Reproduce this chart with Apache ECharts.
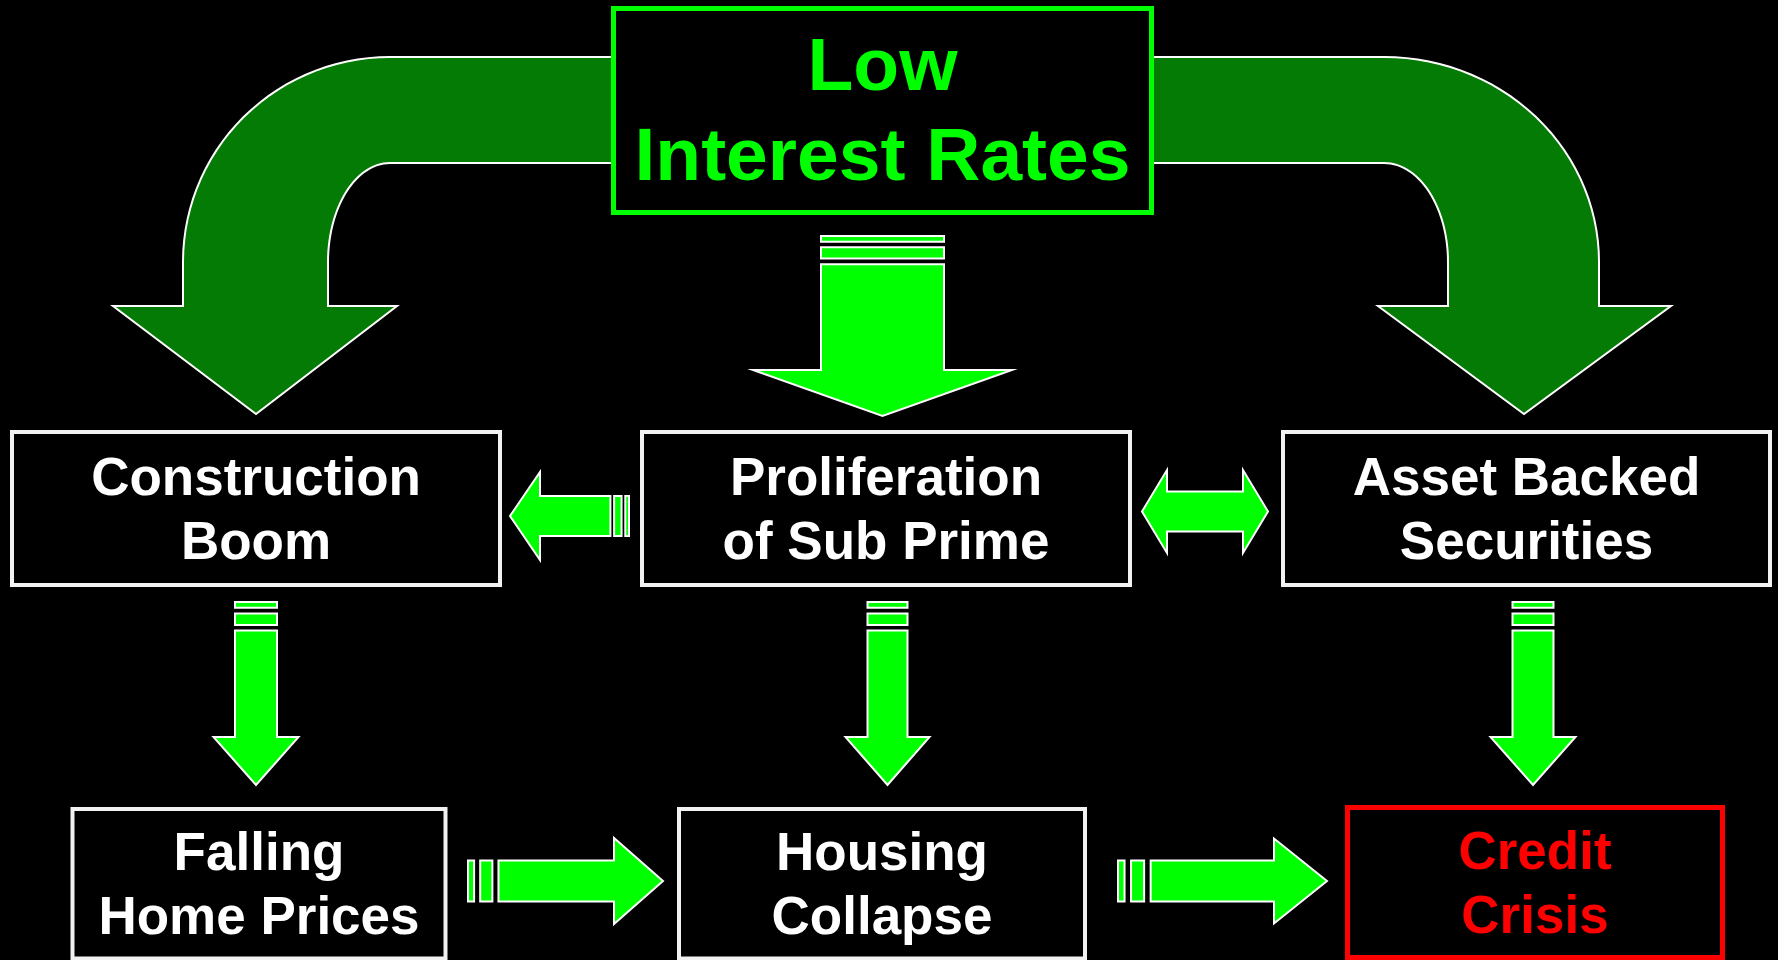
<!DOCTYPE html>
<html>
<head>
<meta charset="utf-8">
<title>Low Interest Rates to Credit Crisis</title>
<script src="https://cdn.jsdelivr.net/npm/echarts@6/dist/echarts.min.js"></script>
<style>
  html, body { margin: 0; padding: 0; background: #000; }
  #chart { width: 1778px; height: 960px; }
</style>
</head>
<body>
<div id="chart"></div>
<script>
// flow diagram, drawn on a hidden value grid (1 unit = 1 px of the slide)

// boxes: label text and outline [x0, y0, x1, y1]
var nodeNames = [
    'Low\nInterest Rates',
    'Construction\nBoom',
    'Proliferation\nof Sub Prime',
    'Asset Backed\nSecurities',
    'Falling\nHome Prices',
    'Housing\nCollapse',
    'Credit\nCrisis'
];
var nodeRects = [
    [613.5, 8.5, 1151.5, 212.5],
    [12, 432, 500, 585],
    [642, 432, 1130, 585],
    [1283, 432, 1770, 585],
    [72.5, 809, 445.5, 958.5],
    [679, 809, 1085, 958.5],
    [1347.5, 807.5, 1722.5, 957.5]
];
// 0 = cause (green), 1 = step (white), 2 = outcome (red)
var nodeKind = [0, 1, 1, 1, 1, 1, 2];

// striped block arrows: [tailX, tailY, tipX, tipY, shaftWidth, headWidth, headLength]
var stripedArrows = [
    [882.5, 236, 882.5, 416, 123, 259, 46],
    [629, 516, 510, 516, 40, 88, 30],
    [256, 602, 256, 785, 42, 85, 48],
    [887.5, 602, 887.5, 785, 40, 84, 48],
    [1533, 602, 1533, 785, 41, 85, 48],
    [468, 881, 663, 881, 41, 86, 49],
    [1118, 881, 1327, 881, 41, 85, 53]
];
// two-headed arrow: [leftX, y, rightX, y, shaftWidth, headWidth, headLength]
var doubleArrows = [
    [1142, 511.5, 1268, 511.5, 40, 83, 25]
];
// bent arrows leaving the top box:
// [fromX, bandTop, bandBottom, bendX, outerX, innerX, curveEndY, headY, headOuterX, headInnerX, tipX, tipY]
var curvedArrows = [
    [630, 57, 163, 390, 183, 328, 262, 306, 113, 397, 256, 414],
    [1135, 57, 163, 1384, 1599, 1448, 262, 306, 1671, 1378, 1524, 414]
];

var FONT = '"Liberation Sans", Arial, Helvetica, sans-serif';
var arrowStyle = { fill: '#00ff00', stroke: '#ffffff', lineWidth: 2, lineJoin: 'miter' };

function vals(api, n) {
    var out = [];
    for (var k = 0; k < n; k++) out.push(api.value(k));
    return out;
}

function renderCurved(params, api) {
    var v = vals(api, 12);
    var c = function (x, y) { return api.coord([x, y]); };
    var from = v[0], top = v[1], bottom = v[2], bend = v[3], outer = v[4], inner = v[5];
    var endY = v[6], headY = v[7];
    var pts = [];
    pts.push(c(from, top));
    // outer quarter ellipse
    var rx = outer - bend, ry = endY - top, i, th;
    for (i = 0; i <= 30; i++) {
        th = i / 30 * Math.PI / 2;
        pts.push(c(bend + rx * Math.sin(th), endY - ry * Math.cos(th)));
    }
    pts.push(c(outer, headY));
    pts.push(c(v[8], headY));
    pts.push(c(v[10], v[11]));
    pts.push(c(v[9], headY));
    pts.push(c(inner, headY));
    // inner quarter ellipse
    var rxi = inner - bend, ryi = endY - bottom;
    for (i = 30; i >= 0; i--) {
        th = i / 30 * Math.PI / 2;
        pts.push(c(bend + rxi * Math.sin(th), endY - ryi * Math.cos(th)));
    }
    pts.push(c(from, bottom));
    return {
        type: 'polygon',
        shape: { points: pts },
        style: { fill: '#047b04', stroke: '#ffffff', lineWidth: 2, lineJoin: 'miter' }
    };
}

function frame(api) {
    var v = vals(api, 7);
    var t = api.coord([v[0], v[1]]);
    var h = api.coord([v[2], v[3]]);
    var dx = h[0] - t[0], dy = h[1] - t[1];
    var L = Math.sqrt(dx * dx + dy * dy);
    var ux = dx / L, uy = dy / L;
    var unit = api.size([1, 0])[0];
    return {
        L: L, sw: v[4] * unit / 2, hw: v[5] * unit / 2, hl: v[6] * unit,
        P: function (a, b) { return [t[0] + ux * a - uy * b, t[1] + uy * a + ux * b]; }
    };
}

function renderStriped(params, api) {
    var f = frame(api), P = f.P, L = f.L, sw = f.sw;
    var band = function (a0, a1) {
        return {
            type: 'polygon',
            shape: { points: [P(a0, -sw), P(a1, -sw), P(a1, sw), P(a0, sw)] },
            style: arrowStyle
        };
    };
    var s0 = L * 5 / 32;
    return {
        type: 'group',
        children: [
            band(0, L / 32),
            band(L / 16, L / 8),
            {
                type: 'polygon',
                shape: { points: [
                    P(s0, -sw), P(L - f.hl, -sw), P(L - f.hl, -f.hw), P(L, 0),
                    P(L - f.hl, f.hw), P(L - f.hl, sw), P(s0, sw)
                ] },
                style: arrowStyle
            }
        ]
    };
}

function renderDouble(params, api) {
    var f = frame(api), P = f.P, L = f.L, sw = f.sw, hw = f.hw, hl = f.hl;
    return {
        type: 'polygon',
        shape: { points: [
            P(hl, -sw), P(L - hl, -sw), P(L - hl, -hw), P(L, 0), P(L - hl, hw), P(L - hl, sw),
            P(hl, sw), P(hl, hw), P(0, 0), P(hl, -hw)
        ] },
        style: arrowStyle
    };
}

function renderNode(params, api) {
    var i = params.dataIndex;
    var p0 = api.coord([api.value(0), api.value(1)]);
    var p1 = api.coord([api.value(2), api.value(3)]);
    var kind = nodeKind[i];
    var colour = kind === 0 ? '#00ff00' : (kind === 2 ? '#ff0000' : '#ffffff');
    var border = kind === 1 ? '#f2f2f2' : colour;
    var big = kind === 0;
    return {
        type: 'group',
        children: [
            {
                type: 'rect',
                shape: { x: p0[0], y: p0[1], width: p1[0] - p0[0], height: p1[1] - p0[1] },
                style: { fill: '#000000', stroke: border, lineWidth: kind === 1 ? 4 : 5 }
            },
            {
                type: 'text',
                style: {
                    text: nodeNames[i],
                    x: (p0[0] + p1[0]) / 2,
                    y: (p0[1] + p1[1]) / 2 + 4,
                    fill: colour,
                    fontFamily: FONT,
                    fontWeight: 'bold',
                    fontSize: big ? 75 : 53,
                    lineHeight: big ? 90 : 64,
                    align: 'center',
                    verticalAlign: 'middle'
                }
            }
        ]
    };
}

var chart = echarts.init(document.getElementById('chart'), null, { renderer: 'canvas' });
chart.setOption({
    backgroundColor: '#000000',
    animation: false,
    grid: { left: 0, right: 0, top: 0, bottom: 0 },
    xAxis: { type: 'value', min: 0, max: 1778, show: false },
    yAxis: { type: 'value', min: 0, max: 960, inverse: true, show: false },
    series: [
        { type: 'custom', name: 'curved', renderItem: renderCurved, data: curvedArrows, z: 1 },
        {
            type: 'custom', name: 'nodes', renderItem: renderNode, z: 2,
            data: nodeRects.map(function (r, i) { return { name: nodeNames[i], value: r }; })
        },
        { type: 'custom', name: 'arrows', renderItem: renderStriped, data: stripedArrows, z: 3 },
        { type: 'custom', name: 'both ways', renderItem: renderDouble, data: doubleArrows, z: 3 }
    ]
});
</script>
</body>
</html>
